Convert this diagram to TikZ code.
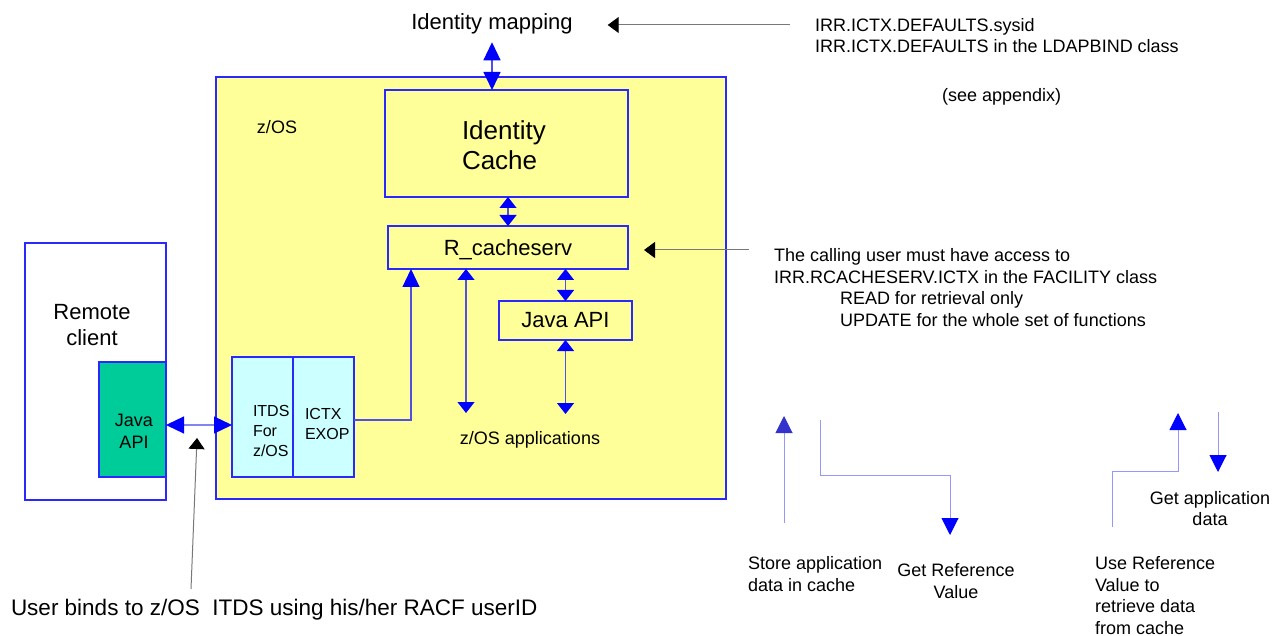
\documentclass[tikz,border=0pt]{standalone}
\usepackage{fontspec}
\setmainfont{Liberation Sans}
\usetikzlibrary{arrows.meta,calc}
\definecolor{zyellow}{RGB}{255,255,153}
\definecolor{zcyan}{RGB}{204,255,255}
\definecolor{zgreen}{RGB}{0,204,153}
\definecolor{zblue}{RGB}{0,0,255}
\definecolor{zborder}{RGB}{40,40,255}
\definecolor{zline}{RGB}{80,80,230}
\definecolor{zlegend}{RGB}{150,150,255}
\definecolor{zgrey}{RGB}{120,120,120}
\definecolor{zdarkhead}{RGB}{51,51,204}
\tikzset{
  BigTip/.tip={Triangle[length=18pt,width=17pt,color=zblue]},
  SmallTip/.tip={Triangle[length=11pt,width=17pt,color=zblue]},
  LegTip/.tip={Triangle[length=17pt,width=17pt,color=zblue]},
  DarkTip/.tip={Triangle[length=17pt,width=17pt,color=zdarkhead]},
  BlackTip/.tip={Triangle[length=11pt,width=16pt,color=black]},
  boxstyle/.style={draw=zborder, line width=1.3pt, inner sep=0pt, outer sep=0pt},
  txt/.style={inner sep=0pt, outer sep=0pt, text=black},
  fA/.style={font=\fontsize{18}{21.7}\selectfont},
  fB/.style={font=\fontsize{22}{26}\selectfont},
  fC/.style={font=\fontsize{26}{30}\selectfont},
  fD/.style={font=\fontsize{16}{20}\selectfont},
  bconn/.style={draw=zline, line width=1.2pt},
  legline/.style={draw=zlegend, line width=1pt},
  greyline/.style={draw=zgrey, line width=1pt},
}
\begin{document}
\begin{tikzpicture}[x=1pt,y=-1pt]
\useasboundingbox (0,0) rectangle (1274,636);

% main z/OS box
\node[boxstyle, fill=zyellow, minimum width=510pt, minimum height=422pt] (zos) at (471,288) {};
\node[txt,fA] (zoslbl) at (277,127) {z/OS};

% Identity cache
\node[boxstyle, minimum width=243pt, minimum height=107pt] (cache) at (506.5,143.5) {};
\node[txt,fC,align=left,anchor=west] (cachetxt) at (462,145) {Identity\\Cache};

% R_cacheserv
\node[boxstyle, minimum width=240pt, minimum height=43pt, fB, text depth=0pt] (rcache) at (508,247.5) {R\_cacheserv};

% Java API (middle)
\node[boxstyle, minimum width=133pt, minimum height=39pt, fB] (japi) at (565.5,320.5) {Java API};

% z/OS applications
\node[txt,fA] (apps) at (530,440) {z/OS applications};

% Remote client
\node[boxstyle, fill=white, minimum width=141pt, minimum height=257pt] (remote) at (95.5,371.5) {};
\node[txt,fB,align=center] (remotetxt) at (92,325) {Remote\\client};
\node[boxstyle, fill=zgreen, minimum width=67pt, minimum height=115pt] (gapi) at (132.5,419.5) {};
\node[txt,fA,align=center] (gapitxt) at (134,431) {Java\\API};

% ITDS / ICTX
\node[boxstyle, fill=zcyan, minimum width=61pt, minimum height=120pt] (itds) at (262.5,417) {};
\node[boxstyle, fill=zcyan, minimum width=61pt, minimum height=120pt] (ictx) at (323.5,417) {};
\node[txt,fD,align=left,anchor=west] (itdstxt) at (253,430.5) {ITDS\\For\\z/OS};
\node[txt,fD,align=left,anchor=west] (ictxtxt) at (305,424) {ICTX\\EXOP};

% top texts
\node[txt,fB] (idmap) at (492,24) {Identity mapping};
\node[txt,font=\fontsize{18}{21}\selectfont,align=left,anchor=west] (irr) at (815,36) {IRR.ICTX.DEFAULTS.sysid\\IRR.ICTX.DEFAULTS in the LDAPBIND class};
\node[txt,fA,anchor=west] (seeapp) at (942,97) {(see appendix)};

% calling user text
\node[txt,fA,align=left,anchor=west] (calling) at (774,287.5) {The calling user must have access to\\IRR.RCACHESERV.ICTX in the FACILITY class\\\hspace*{66pt}READ for retrieval only\\\hspace*{66pt}UPDATE for the whole set of functions};

% bottom text
\node[txt,font=\fontsize{22.5}{26}\selectfont,anchor=west] (binds) at (11,610) {User binds to z/OS\ \ ITDS using his/her RACF userID};

% legend texts
\node[txt,fA,align=left,anchor=west] (store) at (748,574) {Store application\\data in cache};
\node[txt,fA,align=center] (getref) at (956,581) {Get Reference\\Value};
\node[txt,fA,align=center] (getapp) at (1210,508.5) {Get application\\data};
\node[txt,fA,align=left,anchor=west] (useref) at (1095,595.5) {Use Reference\\Value to\\retrieve data\\from cache};

% blue connectors
\draw[bconn, {BigTip}-{BigTip}] ([yshift=-8pt]idmap.south) -- (idmap.south |- cache.north);
\draw[bconn, {SmallTip}-{SmallTip}] (rcache.north |- cache.south) -- (rcache.north);
\draw[bconn, {SmallTip}-{SmallTip}] (japi.north |- rcache.south) -- (japi.north);
\coordinate (appsL) at (466,413);
\coordinate (appsR) at (566,414);
\draw[bconn, {SmallTip}-{SmallTip}] (rcache.south -| appsL) -- (appsL);
\draw[bconn, {SmallTip}-{SmallTip}] (japi.south) -- (japi.south |- appsR);
\draw[bconn, -{BigTip}] ([yshift=-3pt]ictx.east) -| ([xshift=-97pt]rcache.south);
\draw[bconn, draw=zline!70!white, {BigTip}-{BigTip}] ([yshift=-5.5pt]gapi.east) -- ([yshift=-5.5pt]gapi.east -| itds.west);

% black pointer arrows
\coordinate (irrtail) at (790,25);
\draw[greyline, -{BlackTip}] (irrtail) -- ([xshift=35pt,yshift=-1pt]idmap.east);
\coordinate (calltail) at (749,250);
\draw[greyline, -{BlackTip}] (calltail) -- ([xshift=16pt,yshift=-2.5pt]rcache.east);
\coordinate (bindtail) at (191,589);
\coordinate (bindtip) at (197,438);
\draw[greyline, -{BlackTip}] (bindtail) -- (bindtip);

% legend arrows
\coordinate (l1a) at (784,523); \coordinate (l1b) at (784,416);
\draw[legline, -{DarkTip}] (l1a) -- (l1b);
\coordinate (l2a) at (820,420); \coordinate (l2b) at (950,535);
\draw[legline, -{LegTip}] (l2a) -- ++(0,55) -| (l2b);
\coordinate (l3a) at (1112,527); \coordinate (l3b) at (1178,413);
\draw[legline, -{LegTip}] (l3a) -- ++(0,-56) -| (l3b);
\coordinate (l4a) at (1218,412); \coordinate (l4b) at (1218,472);
\draw[legline, -{LegTip}] (l4a) -- (l4b);
\end{tikzpicture}
\end{document}
